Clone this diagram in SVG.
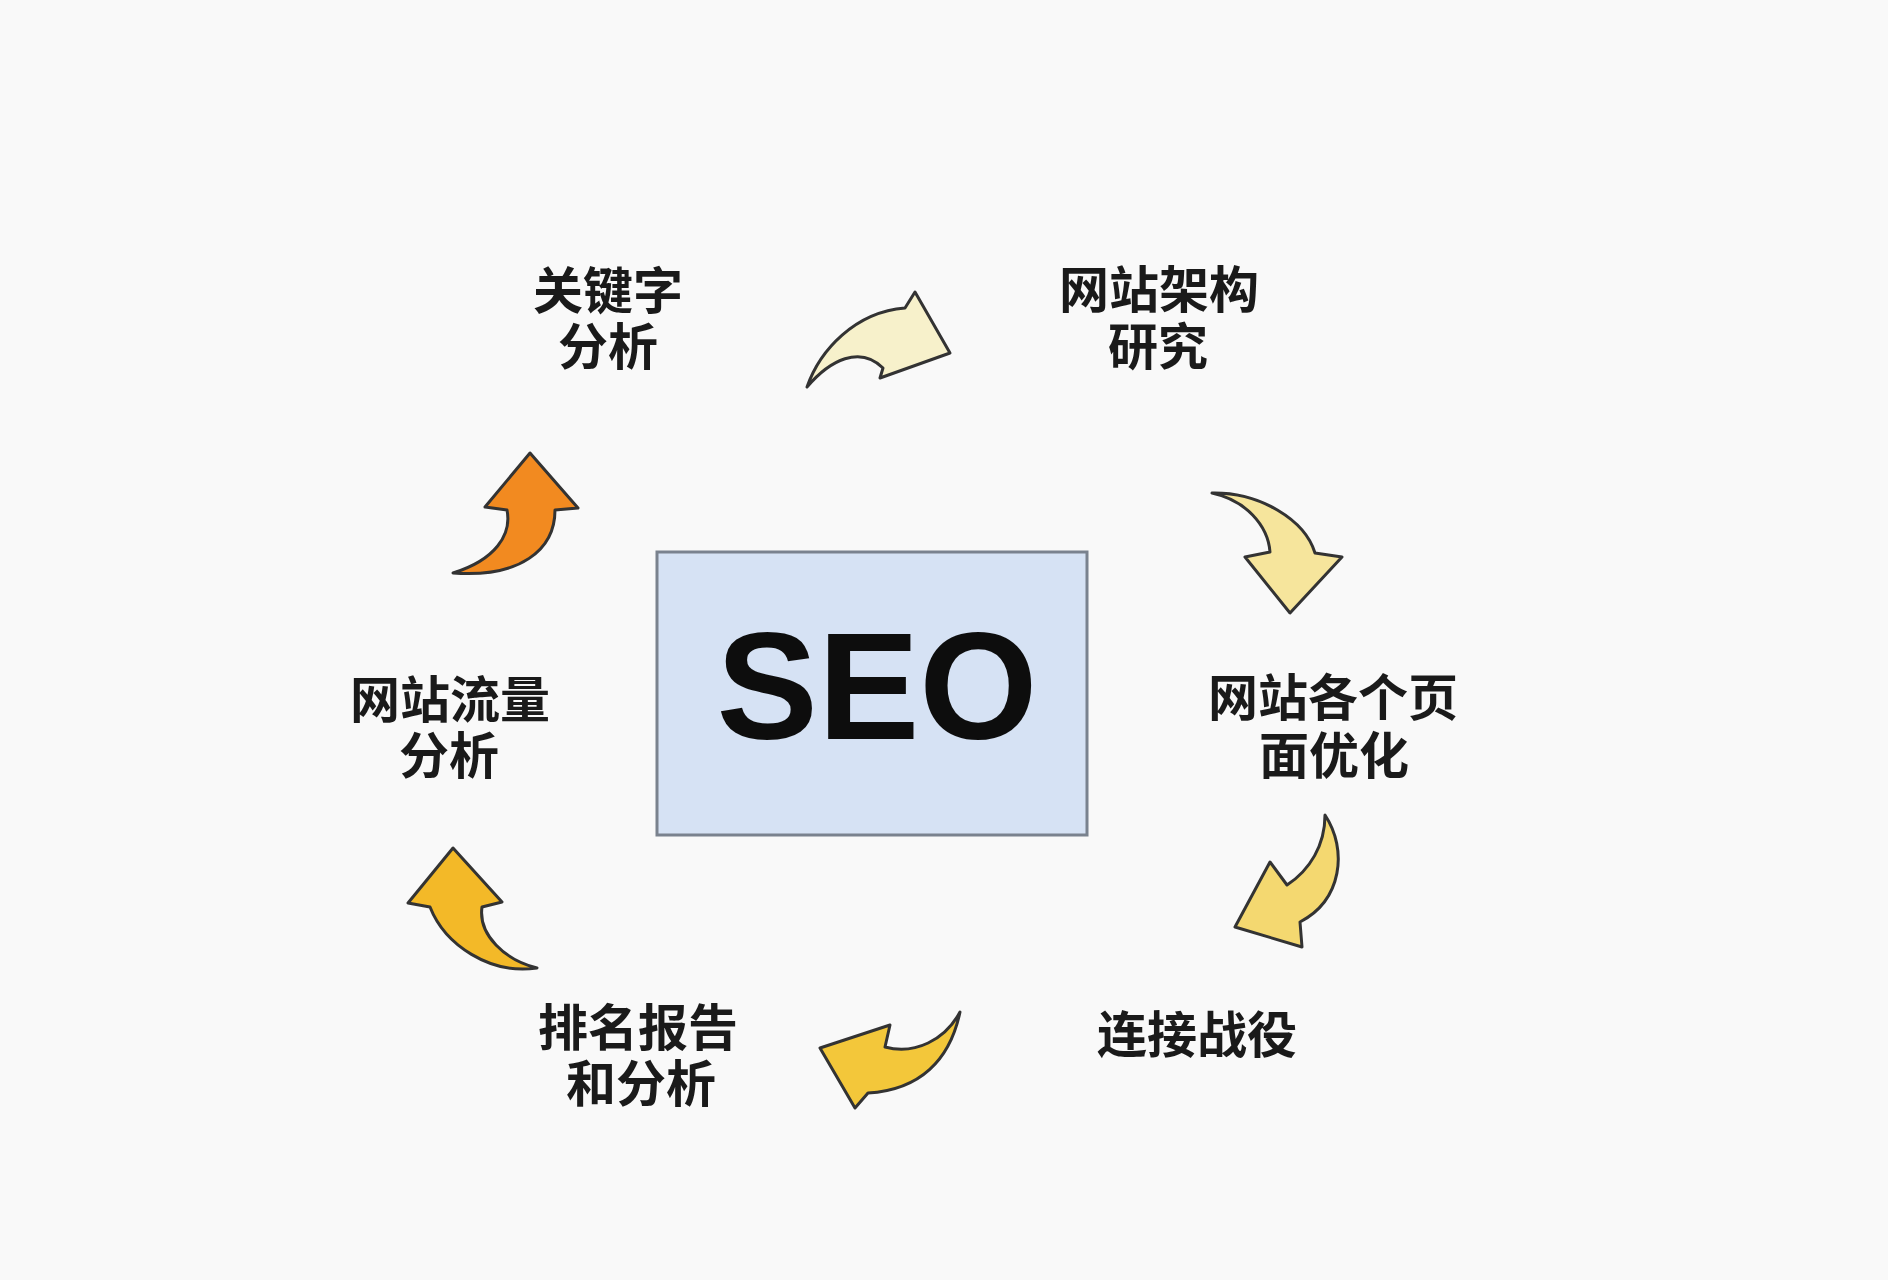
<svg xmlns="http://www.w3.org/2000/svg" width="1888" height="1280" viewBox="0 0 1888 1280">
<style>
.lbl{font-family:"Noto Sans CJK SC","Noto Sans CJK JP",sans-serif;font-weight:700;font-size:50px;fill:#1a1a1a;text-anchor:middle}
.arr{stroke:#333;stroke-width:3;stroke-linejoin:round}
</style>
<rect x="0" y="0" width="1888" height="1280" fill="#f9f9f9"/>
<g id="center">
<rect x="657" y="552" width="430" height="283" fill="#d6e2f4" stroke="#7a828e" stroke-width="3"/>
<text x="877" y="739" font-family="Liberation Sans, Arial, sans-serif" font-weight="700" font-size="152" text-anchor="middle" fill="#0d0d0d">SEO</text>
</g>
<g id="n-keyword"><text class="lbl" x="608" y="309">关键字</text><text class="lbl" x="608" y="365">分析</text></g>
<g id="n-arch"><text class="lbl" x="1159" y="308">网站架构</text><text class="lbl" x="1158" y="365">研究</text></g>
<g id="n-page"><text class="lbl" x="1333" y="716">网站各个页</text><text class="lbl" x="1334" y="774">面优化</text></g>
<g id="n-link"><text class="lbl" x="1197" y="1053">连接战役</text></g>
<g id="n-rank"><text class="lbl" x="638" y="1046">排名报告</text><text class="lbl" x="641" y="1102">和分析</text></g>
<g id="n-traffic"><text class="lbl" x="450" y="718">网站流量</text><text class="lbl" x="449" y="774">分析</text></g>
<g id="connectors">
<path class="arr" fill="#f7f1cb" d="M807,387 C820,350 855,312 905,308 L915,292 L950,353 L880,378 L883,368 C860,345 830,360 807,387 Z"/>
<path class="arr" fill="#f6e59c" d="M1212,493 C1260,492 1305,520 1315,553 L1342,557 L1290,613 L1245,557 L1270,552 C1268,525 1245,500 1212,493 Z"/>
<path class="arr" fill="#f4d870" d="M1325,815 C1348,850 1342,900 1300,922 L1302,947 L1235,927 L1270,862 L1287,885 C1310,870 1325,845 1325,815 Z"/>
<path class="arr" fill="#f3c73a" d="M960,1012 C950,1060 920,1090 868,1093 L855,1108 L820,1048 L890,1025 L885,1047 C915,1055 945,1040 960,1012 Z"/>
<path class="arr" fill="#f3b928" d="M537,968 C490,975 445,945 430,907 L408,903 L453,848 L502,902 L482,907 C478,935 505,960 537,968 Z"/>
<path class="arr" fill="#f28a20" d="M453,573 C495,560 512,535 507,510 L485,507 L530,453 L578,508 L555,510 C555,550 520,578 453,573 Z"/>
</g>
</svg>
